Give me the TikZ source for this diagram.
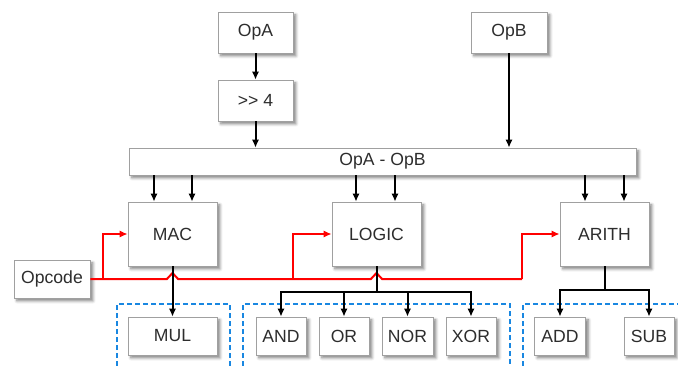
\documentclass[tikz,border=0pt]{standalone}
\usepackage{fontspec}
\setmainfont{Liberation Sans}
\usetikzlibrary{arrows.meta,shadows.blur}
\definecolor{boxline}{RGB}{160,160,160}
\definecolor{txt}{RGB}{45,45,45}
\definecolor{grpblue}{RGB}{25,135,225}
\definecolor{sigred}{RGB}{255,0,0}
\tikzset{
  unit/.style={draw=boxline, line width=0.6pt, fill=white, text=txt, inner sep=0pt,
    font=\fontsize{13.2pt}{15pt}\selectfont,
    blur shadow={shadow xshift=2.2pt, shadow yshift=-2.2pt, shadow blur steps=6, shadow opacity=50}},
  dims/.style args={#1/#2}{minimum width=#1*0.75pt, minimum height=#2*0.75pt},
  arr/.style={line width=1.5pt, black, -{Latex[length=6pt,width=5.5pt]}},
  wire/.style={line width=1.5pt, black},
  redwire/.style={line width=1.5pt, sigred},
  redarr/.style={line width=1.5pt, sigred, -{Latex[length=6pt,width=5.5pt]}},
  group/.style={line width=1.4pt, grpblue, dash pattern=on 3.75pt off 2.25pt},
}
\begin{document}
\begin{tikzpicture}[x=0.75pt, y=-0.75pt]
\useasboundingbox (0,0) rectangle (678,365);
\clip (0,0) rectangle (678,365);

% groups of result operations
\draw[group] (117,390) -- (117,304) -- (230,304) -- (230,390);
\draw[group] (243,390) -- (243,304) -- (510,304) -- (510,390);
\draw[group] (523,390) -- (523,304) -- (700,304);

% operand stage
\node[unit, dims=75/41] (opa) at (255.5,32.5) {OpA};
\node[unit, dims=75/41] (shr) at (255.5,100.5) {{>}{>} 4};
\node[unit, dims=76/41] (opb) at (509,32.5) {OpB};
\node[unit, dims=507/27] (bus) at (382.5,161.5) {OpA - OpB};

% functional units
\node[unit, dims=89/64] (mac) at (172.5,234) {MAC};
\node[unit, dims=89/64] (logic) at (376.5,234) {LOGIC};
\node[unit, dims=89/64] (arith) at (604.5,234) {ARITH};
\node[unit, dims=76/38] (opcode) at (52,279) {Opcode};

% operations
\node[unit, dims=89/38] (mul) at (172.5,336) {MUL};
\node[unit, dims=50/38] (and) at (281,336) {AND};
\node[unit, dims=50/38] (or) at (344,336) {OR};
\node[unit, dims=51/38] (nor) at (407.5,336) {NOR};
\node[unit, dims=50/38] (xor) at (471,336) {XOR};
\node[unit, dims=51/38] (add) at (560,336) {ADD};
\node[unit, dims=50/38] (sub) at (649,336) {SUB};

% operand paths
\draw[arr] (opa) -- (shr);
\draw[arr] (shr.south) -- (shr.south |- bus.north);
\draw[arr] (opb.south) -- (opb.south |- bus.north);
\foreach \x/\t in {154/mac,192/mac,356/logic,395/logic,585/arith,624/arith}
  \draw[arr] (\x,0 |- bus.south) -- (\x,0 |- \t.north);

% opcode distribution, hopping over the unit outputs
\coordinate (h1) at (mac.south |- opcode.east);
\coordinate (h2) at (logic.south |- opcode.east);
\coordinate (j1) at (103,279);
\coordinate (j2) at (293,279);
\coordinate (j3) at (522,279);
\draw[redwire] (opcode.east) -- ([xshift=-4.2pt]h1) -- ([yshift=4.5pt]h1) -- ([xshift=4.2pt]h1)
  -- ([xshift=-4.2pt]h2) -- ([yshift=4.5pt]h2) -- ([xshift=4.2pt]h2) -- (j3);
\draw[redarr] (j1) |- (mac.west);
\draw[redarr] (j2) |- (logic.west);
\draw[redarr] (j3) |- (arith.west);

% unit outputs
\draw[arr] (mac) -- (mul);
\coordinate (lb) at (376.5,292);
\coordinate (ab) at (604.5,290);
\draw[wire] (logic.south) -- (lb);
\draw[wire] (arith.south) -- (ab);
\draw[arr] (lb) -| (and.north);
\draw[arr] (lb) -| (or.north);
\draw[arr] (lb) -| (nor.north);
\draw[arr] (lb) -| (xor.north);
\draw[arr] (ab) -| (add.north);
\draw[arr] (ab) -| (sub.north);
\end{tikzpicture}
\end{document}
